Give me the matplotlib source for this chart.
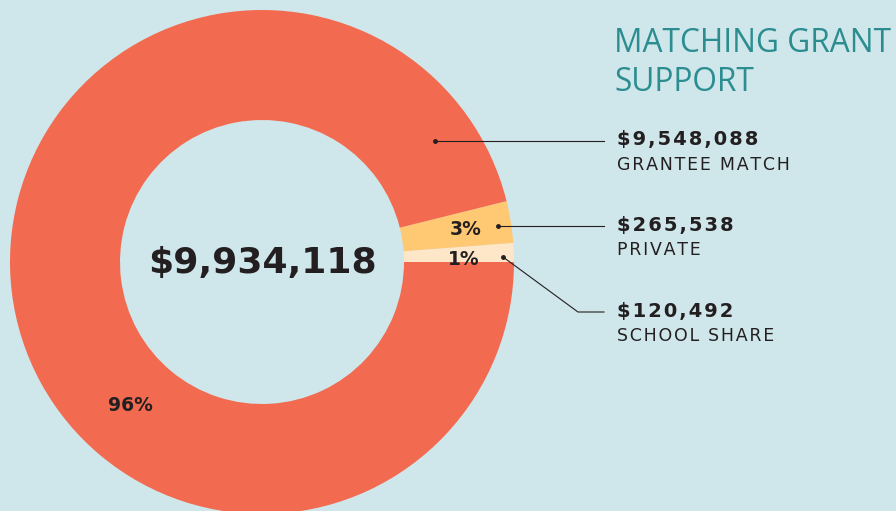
import numpy as np
import matplotlib.pyplot as plt

# data
categories = ['SCHOOL SHARE', 'PRIVATE', 'GRANTEE MATCH']
amounts = [120492, 265538, 9548088]
colors = ['#FDE7C8', '#FFC872', '#F26B50']
title = 'MATCHING GRANT\nSUPPORT'

total = sum(amounts)
pcts = [round(100 * a / total) for a in amounts]

bg = '#CFE6EA'
dark = '#231F20'


def spaced(s, gap='\u200a'):
    # fake letter spacing
    return gap.join(s)


fig = plt.figure(figsize=(8.96, 5.11), dpi=100, facecolor=bg)
ax = fig.add_axes([0, 0, 1, 1])
ax.set_facecolor(bg)

cx, cy, R, W = 262, 262, 252, 110

# y axis is inverted, so counterclock=False draws counterclockwise on screen
wedges, _ = ax.pie(amounts, colors=colors, startangle=0, counterclock=False,
                   center=(cx, cy), radius=R, frame=True,
                   wedgeprops=dict(width=W, linewidth=0))
ax.set_xlim(0, 896)
ax.set_ylim(511, 0)
ax.set_aspect('equal')
ax.axis('off')


def pt(r, ang):
    a = np.deg2rad(ang)
    return cx + r * np.cos(a), cy - r * np.sin(a)


# centre total
ax.text(cx, cy + 1, '${:,}'.format(total), ha='center', va='center',
        fontsize=26, fontweight='bold', color=dark, family='DejaVu Sans')

# percent labels inside ring (radius, angle in degrees)
pct_pos = [(202, 0.6), (206, 9.2), (194, 227.5)]
for p, (r, ang) in zip(pcts, pct_pos):
    x, y = pt(r, ang)
    ax.text(x, y, f'{p}%', ha='center', va='center', fontsize=13.5,
            fontweight='semibold', color=dark)

# title
ax.text(614, 63, title, ha='left', va='center', fontsize=22.8, color='#2B8D90',
        linespacing=1.25, family='Open Sans')

# callouts: value + name, leader line from dot on ring
label_y = [323, 237, 152]
dots = [(241, 1.2), (239, 8.7), (211, 35)]
for name, amt, ly, (r, ang) in zip(categories, amounts, label_y, dots):
    ax.text(617, ly - 12, spaced('${:,}'.format(amt)), ha='left',
            va='center', fontsize=14, fontweight='bold', color=dark)
    ax.text(617, ly + 13, spaced(name), ha='left', va='center', fontsize=12.5,
            color=dark)
    x0, y0 = pt(r, ang)
    ax.plot([x0], [y0], 'o', ms=2.5, color=dark)
    line_y = ly - 11
    if abs(line_y - y0) > 10:
        xs = [x0, 578, 604]
        ys = [y0, line_y, line_y]
    else:
        xs = [x0, 604]
        ys = [line_y, line_y]
    ax.plot(xs, ys, color=dark, lw=0.8)

fig.savefig('out.png', dpi=100, facecolor=bg)
